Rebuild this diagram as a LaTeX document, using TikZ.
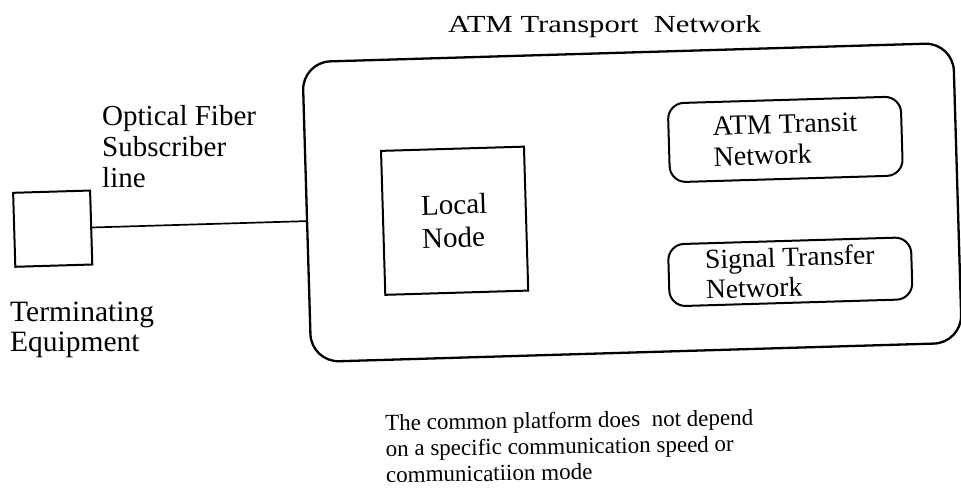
\documentclass[tikz,border=0pt]{standalone}
\usepackage{fontspec}
\setmainfont{Liberation Serif}
\newfontfamily\titlefont{Liberation Serif}[FakeStretch=1.25]
\newcommand\fsz[2]{\fontsize{#1}{#2}\selectfont}

\begin{document}
\begin{tikzpicture}[x=1pt, y=-1pt,
  boxline/.style={draw, line width=2pt},
  sqbox/.style={boxline, rectangle, inner sep=0pt},
  roundbox/.style={boxline, rectangle, rounded corners=16pt, inner sep=0pt},
  platform/.style={draw, line width=2.3pt, rectangle, rounded corners=28pt, inner sep=0pt},
  label/.style={inner sep=0pt, align=left},
  link/.style={line width=1.7pt}
]
% page area
\fill[white] (0,0) rectangle (961,497);
\useasboundingbox (0,0) rectangle (961,497);

% frame, boxes and the subscriber line (slightly tilted as a whole)
\begin{scope}[rotate around={1.7:(480,250)}, transform shape]
  \node[platform, minimum width=651pt, minimum height=300pt] (atm) at (633.5,207) {};
  \node[sqbox, minimum width=77pt, minimum height=74pt] (term) at (53.5,216) {};
  \draw[link] (term.east) -- (term.east -| atm.west);

  \node[sqbox, minimum width=143pt, minimum height=144pt, align=left, font=\fsz{29}{33}] (local) at (455.5,220) {Local\\Node};
  \node[roundbox, minimum width=233pt, minimum height=79pt, align=left, font=\fsz{28}{31}] (transit) at (788.5,148.5) {ATM Transit\\Network};
  \node[roundbox, minimum width=243pt, minimum height=62pt, align=left, font=\fsz{27.5}{30}] (signal) at (789.5,281) {Signal Transfer\\Network};
\end{scope}

% free labels
\node[label, anchor=base west, font=\titlefont\fsz{24.5}{28}] (title) at (448,33) {ATM Transport\ \ Network};
\node[label, anchor=north west, font=\fsz{29}{31}] (fiber) at (102,105) {Optical Fiber\\Subscriber\\line};
\node[label, anchor=north west, font=\fsz{29.5}{30}] (termtext) at (10,301.5) {Terminating\\Equipment};
\node[label, anchor=north west, rotate=0.8, font=\fsz{23}{26}] (note) at (385,414) {The common platform does\ \ not depend\\on a specific communication speed or\\communicatiion mode};
\end{tikzpicture}
\end{document}
